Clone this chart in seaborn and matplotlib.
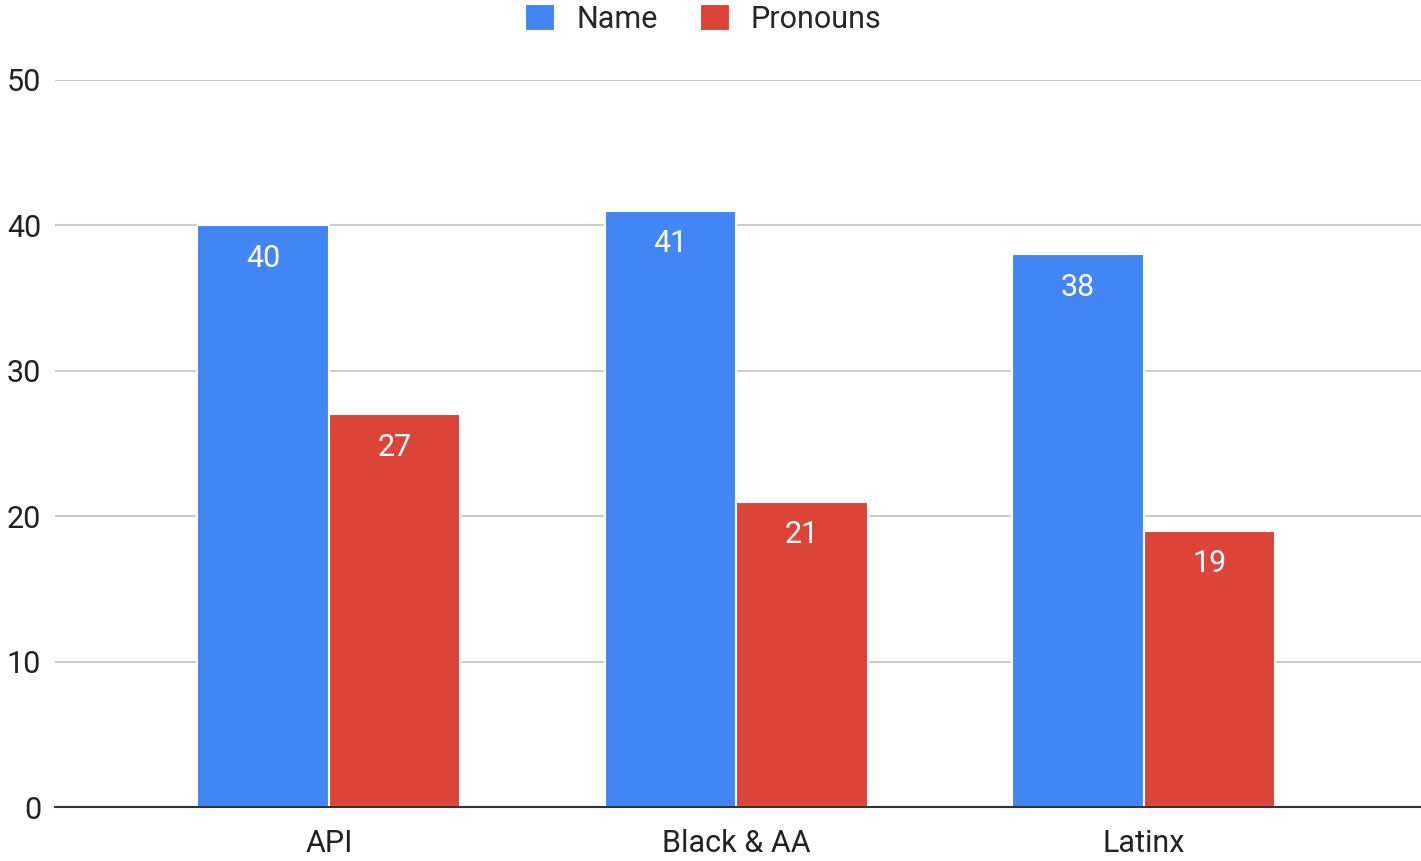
import pandas as pd
import matplotlib
matplotlib.use("Agg")
import matplotlib.pyplot as plt
import seaborn as sns

# --- data ---
groups = ["API", "Black & AA", "Latinx"]
name_vals = [40, 41, 38]
pronoun_vals = [27, 21, 19]
series = ["Name", "Pronouns"]
colors = ["#4285F4", "#DB4437"]

df = pd.DataFrame({
    "group": groups * 2,
    "value": name_vals + pronoun_vals,
    "kind": [series[0]] * len(groups) + [series[1]] * len(groups),
})

sns.set_theme(style="white")
plt.rcParams["font.family"] = ["Roboto", "DejaVu Sans"]

fig = plt.figure(figsize=(14.21, 8.61), dpi=100)
ax = fig.add_axes([0.0387, 0.0627, 0.9613, 0.8444])

sns.barplot(data=df, x="group", y="value", hue="kind", palette=colors,
            width=0.645, edgecolor="white", linewidth=1.5, ax=ax,
            saturation=1, legend=True)

# value labels inside top of each bar
for cont in ax.containers:
    ax.bar_label(cont, padding=-34, color="white", fontsize=22)

ax.set_ylim(0, 50)
ax.set_xlim(-0.672, 2.68)
ax.set_yticks([0, 10, 20, 30, 40, 50])
ax.yaxis.grid(True, color="#cccccc", linewidth=1.5)
ax.set_axisbelow(True)
for s in ["top", "right", "left"]:
    ax.spines[s].set_visible(False)
ax.spines["bottom"].set_color("#333333")
ax.spines["bottom"].set_linewidth(1.5)
ax.tick_params(axis="y", length=0, pad=10, labelsize=22, labelcolor="#222222")
ax.tick_params(axis="x", length=0, pad=16, labelsize=22, labelcolor="#222222")
ax.set_xlabel("")
ax.set_ylabel("")

ax.legend_.remove()
handles, labels = ax.get_legend_handles_labels()
fig.legend(handles, labels, loc="center", bbox_to_anchor=(0.495, 0.978),
           ncol=2, frameon=False, fontsize=22, handlelength=0.98,
           handleheight=0.98, handletextpad=0.69, columnspacing=1.37,
           borderaxespad=0)

fig.savefig("out.png", dpi=100)
